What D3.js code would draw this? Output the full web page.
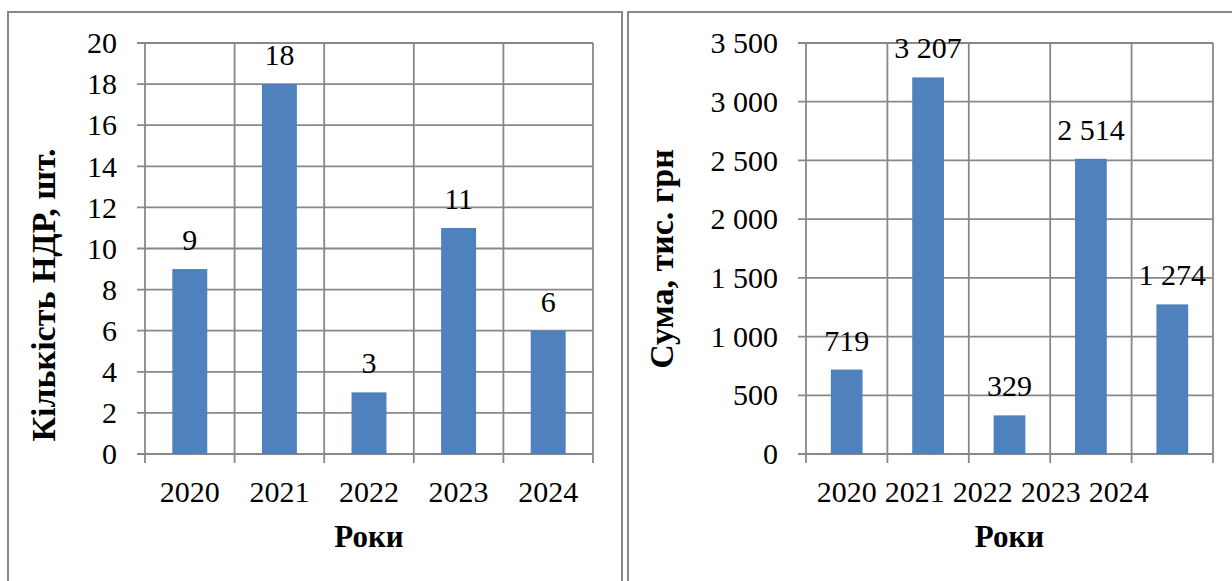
<!DOCTYPE html>
<html>
<head>
<meta charset="utf-8">
<script src="https://cdn.jsdelivr.net/npm/d3@7/dist/d3.min.js"></script>
<style>
  html, body { margin: 0; padding: 0; background: #fff; }
  svg { display: block; }
</style>
</head>
<body>
<svg id="chart" width="1232" height="581"></svg>
<script>
// ---- data ----
const years = ["2020", "2021", "2022", "2023", "2024"];
const countValues = [9, 18, 3, 11, 6];
const sumValues = [719, 3207, 329, 2514, 1274];
const countTicks = [0, 2, 4, 6, 8, 10, 12, 14, 16, 18, 20];
const sumTicks = [0, 500, 1000, 1500, 2000, 2500, 3000, 3500];
const countTitle = "Кількість НДР, шт.";
const sumTitle = "Сума, тис. грн";
const xTitle = "Роки";

const FONT = "'Liberation Serif', 'Times New Roman', Times, serif";
const locale = d3.formatLocale({ thousands: " ", grouping: [3], decimal: ",", currency: ["", ""] });
const fmt = locale.format(",d");

const svg = d3.select("#chart")
  .attr("font-family", FONT)
  .style("font-family", FONT);
const GRID = "#888888";
const BAR = "#4F81BD";

function drawChart(cfg) {
  const g = svg.append("g");
  // panel border
  g.append("rect")
    .attr("x", cfg.panel[0]).attr("y", cfg.panel[1])
    .attr("width", cfg.panel[2]).attr("height", cfg.panel[3])
    .attr("fill", "none").attr("stroke", GRID).attr("stroke-width", 2);

  const x = d3.scaleBand().domain(years).range([cfg.left, cfg.right])
    .paddingInner(0.61).paddingOuter(0.305);
  const step = x.step();
  const y = d3.scaleLinear().domain([0, cfg.max]).range([cfg.bottom, cfg.top]);

  // horizontal gridlines + y ticks (outside)
  g.selectAll(".hg").data(cfg.ticks).join("line")
    .attr("x1", cfg.left - 8).attr("x2", cfg.right)
    .attr("y1", d => y(d)).attr("y2", d => y(d))
    .attr("stroke", GRID).attr("stroke-width", 1.8);

  // vertical gridlines at category boundaries + ticks below axis
  const bounds = d3.range(years.length + 1).map(i => cfg.left + i * step);
  g.selectAll(".vg").data(bounds).join("line")
    .attr("x1", d => d).attr("x2", d => d)
    .attr("y1", cfg.top).attr("y2", cfg.bottom + 9)
    .attr("stroke", GRID).attr("stroke-width", 1.8);

  const txt = sel => sel.attr("font-family", FONT).style("font-family", FONT)
    .attr("fill", "#000").attr("font-size", 30).attr("font-weight", "normal");

  // y tick labels
  g.selectAll(".yl").data(cfg.ticks).join("text")
    .call(txt)
    .attr("x", cfg.left - 28).attr("y", d => y(d)).attr("dy", "0.34em")
    .attr("text-anchor", "end")
    .text(d => fmt(d));

  // bars
  g.selectAll(".bar").data(cfg.values).join("rect")
    .attr("x", (d, i) => x(years[i])).attr("width", x.bandwidth())
    .attr("y", d => y(d)).attr("height", d => y(0) - y(d))
    .attr("fill", BAR);

  // data labels
  g.selectAll(".dl").data(cfg.values).join("text")
    .call(txt)
    .attr("x", (d, i) => x(years[i]) + x.bandwidth() / 2)
    .attr("y", d => y(d) - 19)
    .attr("text-anchor", "middle")
    .text(d => fmt(d));

  // x tick labels
  const xl = g.selectAll(".xl").data(years).join("text")
    .call(txt)
    .attr("y", cfg.bottom + 48)
    .attr("text-anchor", "middle")
    .text(d => d);
  if (cfg.packed) {
    // labels laid out one after another, starting at the first category
    let cursor = null;
    xl.each(function (d, i) {
      const w = this.getComputedTextLength();
      let cx;
      if (i === 0) cx = x(years[0]) + x.bandwidth() / 2;
      else cx = cursor + cfg.gap + w / 2;
      d3.select(this).attr("x", cx);
      cursor = cx + w / 2;
    });
  } else {
    xl.attr("x", d => x(d) + x.bandwidth() / 2);
  }

  // x axis title
  g.append("text")
    .call(txt)
    .attr("x", (cfg.left + cfg.right) / 2).attr("y", cfg.bottom + 93)
    .attr("text-anchor", "middle").attr("font-size", 31).attr("font-weight", "bold")
    .text(xTitle);

  // y axis title
  g.append("text")
    .call(txt)
    .attr("transform", `translate(${cfg.titlePos[0]},${cfg.titlePos[1]}) rotate(-90)`)
    .attr("text-anchor", "middle").attr("font-size", 34).attr("font-weight", "bold")
    .text(cfg.title);
}

drawChart({
  panel: [8, 12, 614, 620],
  left: 145, right: 593, top: 43, bottom: 454,
  max: 20, ticks: countTicks, values: countValues,
  title: countTitle, titlePos: [55, 295], packed: false
});

drawChart({
  panel: [628, 12, 620, 620],
  left: 806, right: 1213, top: 43, bottom: 454,
  max: 3500, ticks: sumTicks, values: sumValues,
  title: sumTitle, titlePos: [673, 259], packed: true, gap: 8
});
</script>
</body>
</html>
